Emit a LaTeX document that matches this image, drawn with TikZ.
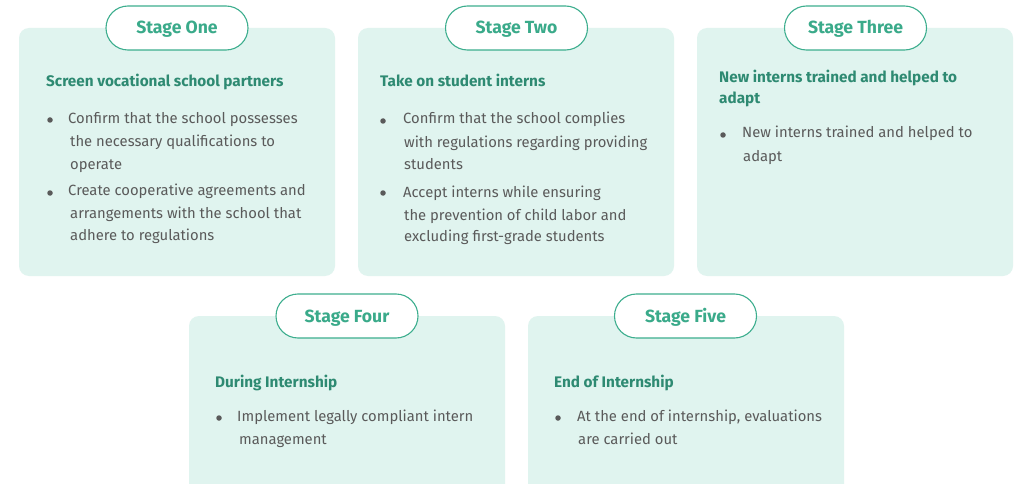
\documentclass[tikz,border=0pt]{standalone}
\usepackage{fontspec}
\setmainfont{Fira Sans}
\definecolor{cardfill}{HTML}{E0F4EF}
\definecolor{pillline}{HTML}{3DAE8E}
\definecolor{pilltext}{HTML}{3AAA8A}
\definecolor{headtext}{HTML}{2E8A72}
\definecolor{bodytext}{HTML}{5A5A5A}
\begin{document}
\begin{tikzpicture}[x=1pt,y=-1pt,
 card/.style={fill=cardfill, rounded corners=10pt, draw=none, minimum width=316pt, inner sep=0pt},
 pill/.style={draw=pillline, line width=1.1pt, fill=white, rounded corners=22pt, minimum width=142pt, minimum height=44pt, inner sep=0pt, text height=12pt, text depth=0pt, text=pilltext, font=\fontsize{17.6}{20}\selectfont\bfseries},
 head/.style={anchor=base west, inner sep=0pt, text=headtext, font=\fontsize{15.3}{17}\selectfont\bfseries},
 body/.style={anchor=base west, inner sep=0pt, text=bodytext, font=\fontsize{14.8}{17}\selectfont},
 dot/.style={circle, fill=bodytext, inner sep=0pt, minimum size=5.5pt}]
\clip (0,0) rectangle (1015,484);
\fill[white] (0,0) rectangle (1015,484);
% cards
\node[card, minimum height=248pt] (c1) at (177,152) {};
\node[card, minimum height=248pt] (c2) at (516,152) {};
\node[card, minimum height=248pt] (c3) at (855,152) {};
\node[card, minimum height=190pt] (c4) at (347,411) {};
\node[card, minimum height=190pt] (c5) at (686,411) {};
% pills
\node[pill] (p1) at (177,28) {Stage One};
\node[pill] (p2) at (516.5,28) {Stage Two};
\node[pill] (p3) at (855.5,28) {Stage Three};
\node[pill] (p4) at (347,316) {Stage Four};
\node[pill] (p5) at (685.5,316) {Stage Five};
% card 1
\node[head] (h1) at (46,87) {Screen vocational school partners};
\node[dot] (d11) at (50,120) {};
\node[body] (t111) at (68,124) {Confirm that the school possesses};
\node[body] (t112) at (70,147) {the necessary qualifications to};
\node[body] (t113) at (70,169) {operate};
\node[dot] (d12) at (50,193) {};
\node[body] (t121) at (68,196) {Create cooperative agreements and};
\node[body] (t122) at (70,218) {arrangements with the school that};
\node[body] (t123) at (70,240) {adhere to regulations};
% card 2
\node[head] (h2) at (380,87) {Take on student interns};
\node[dot] (d21) at (383,121) {};
\node[body] (t211) at (403,124) {Confirm that the school complies};
\node[body] (t212) at (404,148) {with regulations regarding providing};
\node[body] (t213) at (404,169) {students};
\node[dot] (d22) at (383,193) {};
\node[body] (t221) at (403,197) {Accept interns while ensuring};
\node[body] (t222) at (404,220) {the prevention of child labor and};
\node[body] (t223) at (404,241) {excluding first-grade students};
% card 3
\node[head] (h31) at (719,83) {New interns trained and helped to};
\node[head] (h32) at (719,104) {adapt};
\node[dot] (d31) at (723,135) {};
\node[body] (t311) at (742,138) {New interns trained and helped to};
\node[body] (t312) at (743,161) {adapt};
% card 4
\node[head] (h4) at (215,387) {During Internship};
\node[dot] (d41) at (219,418) {};
\node[body] (t411) at (237,421) {Implement legally compliant intern};
\node[body] (t412) at (239,444) {management};
% card 5
\node[head] (h5) at (554,387) {End of Internship};
\node[dot] (d51) at (558,418) {};
\node[body] (t511) at (577,421) {At the end of internship, evaluations};
\node[body] (t512) at (578,444) {are carried out};
\end{tikzpicture}
\end{document}
